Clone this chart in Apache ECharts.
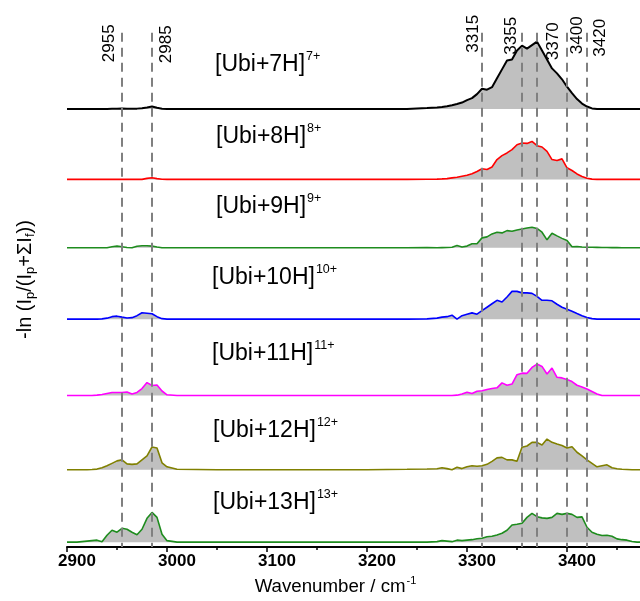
<!DOCTYPE html>
<html>
<head>
<meta charset="utf-8">
<script src="https://cdn.jsdelivr.net/npm/echarts@6/dist/echarts.min.js"></script>
<style>
  html, body { margin: 0; padding: 0; background: #ffffff; }
  #chart { width: 640px; height: 601px; }
</style>
</head>
<body>
<div id="chart"></div>
<script>
// Shared wavenumber grid (cm^-1)
const wavenumbers = [
  2900, 2910, 2920, 2925, 2930, 2935, 2940, 2945, 2950, 2955,
  2960, 2965, 2970, 2975, 2980, 2985, 2990, 2995, 3000, 3010,
  3050, 3100, 3150, 3200, 3240, 3260, 3270, 3275, 3280, 3285,
  3290, 3295, 3300, 3305, 3310, 3315, 3320, 3325, 3330, 3335,
  3340, 3345, 3350, 3355, 3360, 3365, 3370, 3375, 3380, 3385,
  3390, 3395, 3400, 3405, 3410, 3415, 3420, 3425, 3430, 3435,
  3440, 3445, 3450, 3455, 3460, 3465, 3470, 3475
];

// Photodissociation yield -ln(Ip/(Ip+ΣIf)) for each charge state
const ubi7 = [
  0, 0, 0, 0, 0, 0, 0, 0.002, 0.004, 0.006,
  0.003, 0.002, 0.004, 0.008, 0.015, 0.025, 0.012, 0.003, 0, 0,
  0, 0, 0, 0, 0.001, 0.010, 0.015, 0.020, 0.028, 0.038,
  0.050, 0.065, 0.090, 0.110, 0.150, 0.205, 0.195, 0.220, 0.310, 0.400,
  0.490, 0.500, 0.590, 0.640, 0.610, 0.645, 0.680, 0.590, 0.500, 0.410,
  0.360, 0.300, 0.225, 0.160, 0.100, 0.055, 0.025, 0.006, 0.001, 0,
  0, 0, 0, 0, 0, 0, 0, 0
];
const ubi8 = [
  0, 0, 0, 0, 0, 0, 0, 0, 0, 0.002,
  0, 0, 0, 0, 0.010, 0.017, 0.008, 0.002, 0, 0,
  0, 0, 0, 0, 0, 0.002, 0.003, 0.005, 0.008, 0.015,
  0.022, 0.032, 0.042, 0.057, 0.080, 0.107, 0.100, 0.125, 0.200, 0.240,
  0.267, 0.300, 0.350, 0.367, 0.363, 0.383, 0.340, 0.327, 0.283, 0.200,
  0.190, 0.207, 0.117, 0.090, 0.055, 0.030, 0.012, 0.003, 0, 0,
  0, 0, 0, 0, 0, 0, 0, 0
];
const ubi9 = [
  0, 0, 0, 0, 0, 0, 0, 0.010, 0.017, 0.010,
  0.003, 0, 0.015, 0.020, 0.020, 0.017, 0.008, 0, 0, 0,
  0, 0, 0, 0, 0, 0.003, 0, 0.002, 0.003, 0.005,
  0.023, 0.007, 0.017, 0.040, 0.040, 0.100, 0.110, 0.140, 0.157, 0.150,
  0.173, 0.167, 0.180, 0.190, 0.200, 0.207, 0.195, 0.157, 0.080, 0.147,
  0.120, 0.095, 0.073, 0.010, 0.013, 0.008, 0.005, 0.005, 0.004, 0.003,
  0.003, 0.002, 0.002, 0.001, 0, 0, 0, 0
];
const ubi10 = [
  0, 0, 0, 0, 0, 0.003, 0.010, 0.025, 0.030, 0.020,
  0.012, 0.015, 0.035, 0.065, 0.060, 0.055, 0.025, 0.005, 0, 0,
  0, 0, 0, 0, 0, 0.003, 0.010, 0.020, 0.025, 0.040,
  0, 0.035, 0.050, 0.063, 0.050, 0.085, 0.120, 0.155, 0.190, 0.173,
  0.223, 0.280, 0.280, 0.265, 0.265, 0.260, 0.230, 0.190, 0.190, 0.185,
  0.150, 0.120, 0.100, 0.080, 0.057, 0.035, 0.017, 0.005, 0, 0,
  0, 0, 0, 0, 0, 0, 0, 0
];
const ubi11 = [
  0, 0, 0, 0, 0.003, 0.010, 0.020, 0.030, 0.030, 0.030,
  0.035, 0.015, 0.030, 0.070, 0.130, 0.100, 0.105, 0.045, 0.007, 0,
  0, 0, 0, 0, 0, 0, 0, 0, 0, 0,
  0.003, 0.015, 0.033, 0.020, 0.043, 0.048, 0.060, 0.070, 0.077, 0.127,
  0.103, 0.115, 0.210, 0.225, 0.223, 0.283, 0.317, 0.293, 0.217, 0.277,
  0.183, 0.177, 0.160, 0.140, 0.103, 0.085, 0.065, 0.040, 0.015, 0,
  0, 0, 0, 0, 0, 0, 0, 0
];
const ubi12 = [
  0, 0, 0, 0.003, 0.007, 0.020, 0.040, 0.065, 0.090, 0.100,
  0.060, 0.055, 0.060, 0.100, 0.140, 0.230, 0.220, 0.070, 0.030, 0.005,
  0, 0, 0, 0, 0.005, 0.008, 0.010, 0.020, 0.012, 0,
  0.025, 0.012, 0.030, 0.040, 0.035, 0.040, 0.055, 0.085, 0.120, 0.125,
  0.100, 0.100, 0.087, 0.227, 0.240, 0.277, 0.277, 0.250, 0.310, 0.277,
  0.260, 0.245, 0.220, 0.233, 0.177, 0.140, 0.100, 0.065, 0.030, 0.040,
  0.050, 0.020, 0.010, 0.005, 0.003, 0, 0, 0
];
const ubi13 = [
  0, 0, 0.010, 0.015, 0.020, 0.003, 0.070, 0.120, 0.100, 0.140,
  0.130, 0.100, 0.075, 0.130, 0.240, 0.300, 0.250, 0.080, 0.015, 0,
  0, 0, 0, 0, 0, 0, 0.005, 0.015, 0.010, 0.005,
  0.020, 0.015, 0.020, 0.025, 0.035, 0.040, 0.055, 0.060, 0.073, 0.090,
  0.120, 0.173, 0.180, 0.190, 0.250, 0.290, 0.257, 0.245, 0.240, 0.250,
  0.290, 0.280, 0.290, 0.280, 0.250, 0.255, 0.150, 0.100, 0.080, 0.067,
  0.070, 0.060, 0.033, 0.025, 0.020, 0.007, 0, 0
];

const spectra = [ubi7, ubi8, ubi9, ubi10, ubi11, ubi12, ubi13];
const chargeStates = [7, 8, 9, 10, 11, 12, 13];
// vertical offset of each trace in the stack
const offsets = [4.42, 3.71, 3.02, 2.30, 1.53, 0.78, 0.05];
const lineColors = ['#000000', '#ff0000', '#1e8c1e', '#0000ff', '#ff00ff', '#808000', '#1e8c1e'];

// Axis ticks (cm^-1)
const majorTicks = [2900, 3000, 3100, 3200, 3300, 3400];
const minorTicks = [2950, 3050, 3150, 3250, 3350, 3450];
const X_MIN = 2900;
const X_MAX = 3473;

// Reference band positions (cm^-1)
const bandPositions = [2955, 2985, 3315, 3355, 3370, 3400, 3420];
const bandLabelSide = ['left', 'right', 'left', 'left', 'right', 'right', 'right'];
const bandLabelGap = [4.5, 5.5, 0.5, 2.5, 8, 2, 4.5];
const bandLabelTop = [5.32, 5.32, 5.375, 5.375, 5.375, 5.375, 5.375];

const FONT = '"Liberation Sans", Arial, sans-serif';
const Y_MAX = 5.52;
const BAND_TOP = 5.19;
const titleTop = [65, 137, 207, 278, 354, 431, 503];
const titleLeft = [215, 216, 216, 212, 212, 213, 213];

const chart = echarts.init(document.getElementById('chart'), null, { renderer: 'canvas' });

const traceSeries = spectra.map((vals, i) => ({
  type: 'line',
  name: '[Ubi+' + chargeStates[i] + 'H]',
  data: wavenumbers.map((w, k) => [w, offsets[i] + vals[k]]),
  showSymbol: false,
  symbol: 'none',
  smooth: false,
  lineStyle: { color: lineColors[i], width: i === 0 ? 2 : 1.6 },
  areaStyle: { color: '#c0c0c0', opacity: 1, origin: offsets[i] },
  z: 2,
  animation: false
}));

// dashed band markers, drawn from the top down
const bandLineSeries = {
  type: 'line',
  data: [],
  z: 4,
  silent: true,
  animation: false,
  markLine: {
    silent: true,
    symbol: ['none', 'none'],
    animation: false,
    label: { show: false },
    lineStyle: { color: '#808080', width: 2, type: [9, 6] },
    data: bandPositions.map(w => [{ coord: [w, BAND_TOP] }, { coord: [w, 0] }])
  }
};

// band position labels carried by invisible guide lines
const bandLabelSeries = {
  type: 'line',
  data: [],
  z: 4,
  silent: true,
  animation: false,
  markLine: {
    silent: true,
    symbol: ['none', 'none'],
    animation: false,
    lineStyle: { color: 'rgba(0,0,0,0)', width: 1, type: 'solid' },
    label: { show: true, color: '#000', fontSize: 17, fontFamily: FONT },
    data: bandPositions.map((w, i) => [
      {
        coord: [w, 0],
        label: {
          show: true,
          position: bandLabelSide[i] === 'left' ? 'insideEndTop' : 'insideEndBottom',
          distance: bandLabelGap[i],
          formatter: String(w)
        }
      },
      { coord: [w, bandLabelTop[i]] }
    ])
  }
};

const titles = chargeStates.map((c, i) => ({
  type: 'text',
  x: titleLeft[i],
  y: titleTop[i],
  silent: true,
  style: {
    text: '{m|[Ubi+' + c + 'H]}{sup|' + c + '+}',
    verticalAlign: 'middle',
    align: 'left',
    rich: {
      m: { fontSize: 23, fontFamily: FONT, fill: '#000' },
      sup: { fontSize: 12.5, fontFamily: FONT, fill: '#000', padding: [0, 0, 17, 1] }
    }
  }
}));

chart.setOption({
  backgroundColor: '#ffffff',
  animation: false,
  grid: { left: 67, right: 0, top: 0, bottom: 49, containLabel: false },
  xAxis: [
    {
      type: 'value',
      min: X_MIN,
      max: X_MAX,
      position: 'bottom',
      name: 'Wavenumber / cm{sup|-1}',
      nameLocation: 'middle',
      nameGap: 25,
      nameTextStyle: {
        fontSize: 18.7, fontFamily: FONT, color: '#000',
        padding: [0, 36, 0, 0],
        verticalAlign: 'top',
        rich: { sup: { fontSize: 11, fontFamily: FONT, color: '#000', padding: [0, 0, 12, 1] } }
      },
      axisLine: { show: true, onZero: false, lineStyle: { color: '#000', width: 2 } },
      axisTick: { show: true, inside: false, length: 5, customValues: majorTicks, lineStyle: { color: '#000', width: 1.5 } },
      axisLabel: {
        customValues: majorTicks,
        fontSize: 17, fontWeight: 'bold', fontFamily: FONT, color: '#000', margin: 6,
        padding: [0, 0, 0, 20],
        formatter: v => String(v)
      },
      splitLine: { show: false }
    },
    {
      type: 'value',
      min: X_MIN,
      max: X_MAX,
      position: 'bottom',
      offset: 0,
      axisLine: { show: false },
      axisTick: { show: true, inside: false, length: 3, customValues: minorTicks, lineStyle: { color: '#000', width: 1.5 } },
      axisLabel: { show: false },
      splitLine: { show: false }
    }
  ],
  yAxis: {
    type: 'value',
    min: 0,
    max: Y_MAX,
    name: '-ln (I{sub|p}/(I{sub|p}+ΣI{sub|f}))',
    nameLocation: 'middle',
    nameRotate: 90,
    nameGap: 30,
    nameTextStyle: {
      fontSize: 20, fontFamily: FONT, color: '#000',
      padding: [0, 12, 0, 0],
      rich: { sub: { fontSize: 13, fontFamily: FONT, color: '#000', padding: [11, 0, 0, 0] } }
    },
    axisLine: { show: false },
    axisTick: { show: false },
    axisLabel: { show: false },
    splitLine: { show: false }
  },
  graphic: titles,
  series: [...traceSeries, bandLineSeries, bandLabelSeries]
});
</script>
</body>
</html>
